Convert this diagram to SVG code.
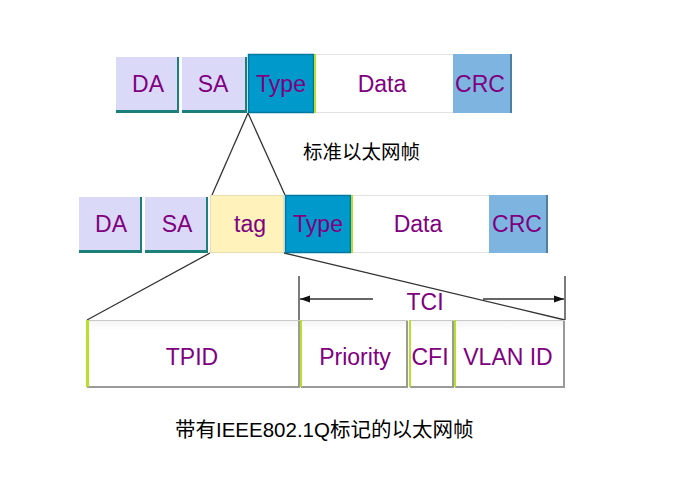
<svg xmlns="http://www.w3.org/2000/svg" width="679" height="489" viewBox="0 0 679 489">
<defs>
<style>
.lbl{font-family:"Liberation Sans",Arial,sans-serif;font-size:23px;fill:#800080;text-anchor:middle}
.cap{font-family:"Liberation Sans","Noto Sans CJK SC",sans-serif;fill:#000}
.lav{fill:#DADAF8}
.teal{fill:#1B7F7A}
.type{fill:#0099CC;stroke:#00779F;stroke-width:1.5}
.data{fill:#FFFFFF;stroke:#E2E2E2;stroke-width:1}
.crc{fill:#7DB5E0}
.tag{fill:#FFF2BB;stroke:#E6DDB0;stroke-width:1}
.lime{fill:#B8E02A}
.wbox{fill:url(#wg);stroke:#C8C8C8;stroke-width:1}
.shd{fill:#9A9A9A}
.ln{stroke:#333;stroke-width:1.3;fill:none}
</style>
<linearGradient id="wg" x1="0" y1="0" x2="0" y2="1">
<stop offset="0" stop-color="#F4F4F4"/>
<stop offset="0.15" stop-color="#FFFFFF"/>
<stop offset="1" stop-color="#FFFFFF"/>
</linearGradient>
<marker id="ah" viewBox="0 0 10 10" refX="10" refY="5" markerWidth="10" markerHeight="10" markerUnits="userSpaceOnUse" orient="auto">
<path d="M0,1.5 L10,5 L0,8.5 Z" fill="#111"/>
</marker>
</defs>

<g id="connectors">
<line class="ln" x1="248" y1="113" x2="212" y2="195"/>
<line class="ln" x1="248" y1="113" x2="285" y2="195"/>
<line class="ln" x1="210" y1="253" x2="87" y2="320"/>
<line class="ln" x1="284" y1="253" x2="565" y2="320"/>
<line class="ln" x1="299" y1="276" x2="299" y2="320"/>
<line class="ln" x1="565" y1="276" x2="565" y2="320"/>
<line class="ln" x1="373" y1="299" x2="300" y2="299" marker-end="url(#ah)"/>
<line class="ln" x1="483" y1="299" x2="564" y2="299" marker-end="url(#ah)"/>
</g>

<!-- Row 1: standard Ethernet frame -->
<g id="r1-da">
<rect class="lav" x="116" y="57" width="63" height="56"/>
<rect class="teal" x="116" y="110" width="63" height="3"/>
<rect class="teal" x="177" y="57" width="2" height="56"/>
<text class="lbl" x="148" y="92">DA</text>
</g>
<g id="r1-sa">
<rect class="lav" x="182" y="57" width="65" height="56"/>
<rect class="teal" x="182" y="110" width="65" height="3"/>
<rect class="teal" x="245" y="57" width="2" height="56"/>
<text class="lbl" x="213" y="92">SA</text>
</g>
<g id="r1-type">
<rect class="type" x="248.5" y="54.5" width="65" height="58"/>
<text class="lbl" x="281" y="92">Type</text>
</g>
<g id="r1-data">
<rect class="data" x="314.5" y="54.5" width="139" height="58"/>
<rect class="lime" x="314" y="54" width="2" height="59"/>
<text class="lbl" x="382" y="92">Data</text>
</g>
<g id="r1-crc">
<rect class="crc" x="453" y="54" width="59" height="59"/>
<rect fill="#4F7FA0" x="510" y="54" width="2" height="59"/>
<text class="lbl" x="480" y="92">CRC</text>
</g>

<text id="cap1" class="cap" x="303" y="158.5" font-size="19.5">标准以太网帧</text>

<!-- Row 2: 802.1Q frame -->
<g id="r2-da">
<rect class="lav" x="79" y="197" width="63" height="56"/>
<rect class="teal" x="79" y="250" width="63" height="3"/>
<rect class="teal" x="140" y="197" width="2" height="56"/>
<text class="lbl" x="111" y="232" font-size="22">DA</text>
</g>
<g id="r2-sa">
<rect class="lav" x="145" y="197" width="63" height="56"/>
<rect class="teal" x="145" y="250" width="63" height="3"/>
<rect class="teal" x="206" y="197" width="2" height="56"/>
<text class="lbl" x="177" y="232" font-size="22">SA</text>
</g>
<g id="r2-tag">
<rect class="tag" x="210.5" y="195.5" width="73" height="57"/>
<text class="lbl" x="250" y="232" font-size="22">tag</text>
</g>
<g id="r2-type">
<rect class="type" x="285.5" y="195.5" width="65" height="57"/>
<text class="lbl" x="318" y="232" font-size="22">Type</text>
</g>
<g id="r2-data">
<rect class="data" x="351.5" y="195.5" width="138" height="57"/>
<rect class="lime" x="351" y="195" width="2" height="58"/>
<text class="lbl" x="418" y="232" font-size="22">Data</text>
</g>
<g id="r2-crc">
<rect class="crc" x="489" y="195" width="59" height="58"/>
<rect fill="#4F7FA0" x="546" y="195" width="2" height="58"/>
<text class="lbl" x="517" y="232" font-size="22">CRC</text>
</g>

<!-- Row 3: tag fields -->
<g id="r3-tpid">
<rect class="wbox" x="86.5" y="320.5" width="213" height="66"/>
<rect class="shd" x="298" y="321" width="2" height="67"/>
<rect class="shd" x="87" y="386" width="213" height="2"/>
<rect class="lime" x="86" y="320" width="3" height="67"/>
<text class="lbl" x="192" y="365">TPID</text>
</g>
<g id="r3-priority">
<rect class="wbox" x="300.5" y="320.5" width="107" height="66"/>
<rect class="shd" x="406" y="321" width="2" height="67"/>
<rect class="shd" x="301" y="386" width="107" height="2"/>
<rect class="lime" x="300" y="320" width="2" height="67"/>
<text class="lbl" x="355" y="365">Priority</text>
</g>
<g id="r3-cfi">
<rect class="wbox" x="409.5" y="320.5" width="44" height="66"/>
<rect class="shd" x="452" y="321" width="2" height="67"/>
<rect class="shd" x="410" y="386" width="44" height="2"/>
<rect class="lime" x="409" y="320" width="2" height="67"/>
<text class="lbl" x="430" y="365">CFI</text>
</g>
<g id="r3-vlan">
<rect class="wbox" x="454.5" y="320.5" width="110" height="66"/>
<rect class="shd" x="563" y="321" width="2" height="67"/>
<rect class="shd" x="455" y="386" width="110" height="2"/>
<rect class="lime" x="454" y="320" width="2" height="67"/>
<text class="lbl" x="508" y="365">VLAN ID</text>
</g>

<text id="tci" class="lbl" x="425" y="310">TCI</text>

<text id="cap2" class="cap" x="175" y="436.5" font-size="20.5">带有IEEE802.1Q标记的以太网帧</text>
</svg>
